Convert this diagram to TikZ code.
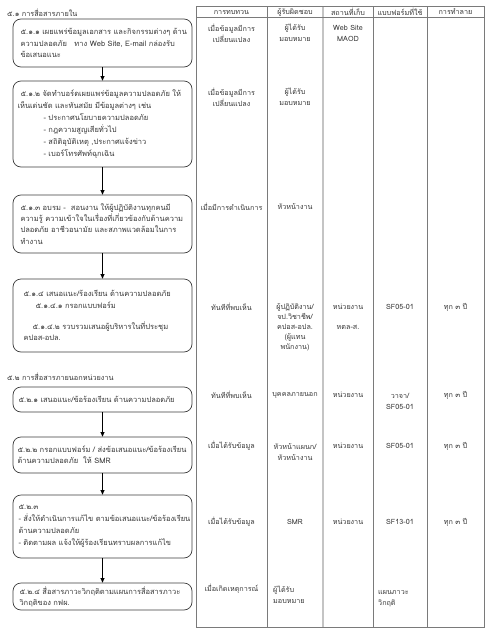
\documentclass[tikz,border=0pt]{standalone}
\usepackage{fontspec}
\newfontfamily\thai[Script=Thai]{Loma}
\usetikzlibrary{arrows.meta}
\definecolor{boxline}{HTML}{3C3C3C}
\definecolor{tabline}{HTML}{7A7A7A}
\definecolor{tabthick}{HTML}{C4C4C4}
\definecolor{txt}{HTML}{383838}
\tikzset{
  flowbox/.style={draw=boxline, line width=0.7pt, rounded corners=8pt, text=txt,
    font=\thai\fontsize{7.5}{11.2}\selectfont, align=left, text width=170pt,
    inner sep=0pt, minimum width=179pt},
  arr/.style={draw=black, line width=0.7pt, -{Triangle[length=4.5pt,width=4pt]}},
  head/.style={text=txt, font=\thai\fontsize{7.3}{11}\selectfont, anchor=west, inner sep=0pt},
  cell/.style={text=txt, font=\thai\fontsize{7.2}{11}\selectfont, align=center, inner sep=0pt},
  cellL/.style={text=txt, font=\thai\fontsize{7.2}{11}\selectfont, align=left, anchor=west, inner sep=0pt},
  tline/.style={draw=tabline, line width=0.6pt},
  tthick/.style={draw=tabthick, line width=1.6pt}
}
\begin{document}
\begin{tikzpicture}[x=1pt,y=-1pt]
\useasboundingbox[fill=white] (0,0) rectangle (497,640);

% headings
\node[head] (h1) at (7,13) {๕.๑ การสื่อสารภายใน};
\node[head] (h2) at (7,377) {๕.๒ การสื่อสารภายนอกหน่วยงาน};

% flow boxes
\node[flowbox, minimum height=48pt] (b1) at (102.5,43)
 {\hspace*{3pt}\mbox{๕.๑.๑ เผยแพร่ข้อมูลเอกสาร และกิจกรรมต่างๆ ด้าน}\\
  \hspace*{3pt}\mbox{ความปลอดภัย \ \ ทาง Web Site, E-mail กล่องรับ}\\
  \hspace*{3pt}ข้อเสนอแนะ};
\node[flowbox, minimum height=86pt, font=\thai\fontsize{7.5}{12}\selectfont] (b2) at (102.5,124)
 {\hspace*{3pt}\mbox{๕.๑.๒ จัดทำบอร์ดเผยแพร่ข้อมูลความปลอดภัย ให้}\\
  \mbox{เห็นเด่นชัด และทันสมัย มีข้อมูลต่างๆ เช่น}\\
  \hspace*{26pt}- ประกาศนโยบายความปลอดภัย\\
  \hspace*{26pt}- กฎความสูญเสียทั่วไป\\
  \hspace*{26pt}- สถิติอุบัติเหตุ ,ประกาศแจ้งข่าว\\
  \hspace*{26pt}- เบอร์โทรศัพท์ฉุกเฉิน};
\node[flowbox, minimum height=58pt] (b3) at (102.5,224)
 {\hspace*{3pt}\mbox{๕.๑.๓ อบรม - \ สอนงาน ให้ผู้ปฏิบัติงานทุกคนมี}\\
  \hspace*{3pt}\mbox{ความรู้ ความเข้าใจในเรื่องที่เกี่ยวข้องกับด้านความ}\\
  \hspace*{3pt}\mbox{ปลอดภัย อาชีวอนามัย และสภาพแวดล้อมในการ}\\
  \hspace*{3pt}ทำงาน};
\node[flowbox, minimum height=73pt] (b4) at (102.5,315.5)
 {\hspace*{6pt}\mbox{๕.๑.๔ เสนอแนะ/ร้องเรียน ด้านความปลอดภัย}\\
  \hspace*{18pt}๕.๑.๔.๑ กรอกแบบฟอร์ม\\[10pt]
  \hspace*{15pt}\mbox{๕.๑.๔.๒ รวบรวมเสนอผู้บริหารในที่ประชุม}\\
  \hspace*{6pt}คปอส-อปล.};
\node[flowbox, minimum height=25pt] (b5) at (102.5,399.5)
 {\hspace*{1pt}\mbox{๕.๒.๑ เสนอแนะ/ข้อร้องเรียน ด้านความปลอดภัย}};
\node[flowbox, minimum height=36pt] (b6) at (102.5,455)
 {\mbox{๕.๒.๒ กรอกแบบฟอร์ม / ส่งข้อเสนอแนะ/ข้อร้องเรียน}\\
  ด้านความปลอดภัย \ ให้ SMR};
\node[flowbox, minimum height=63pt, font=\thai\fontsize{7.5}{12}\selectfont] (b7) at (102.5,526.5)
 {\hspace*{1pt}๕.๒.๓\\
  \hspace*{1pt}\mbox{- สั่งให้ดำเนินการแก้ไข ตามข้อเสนอแนะ/ข้อร้องเรียน}\\
  \hspace*{1pt}ด้านความปลอดภัย\\
  \hspace*{1pt}\mbox{- ติดตามผล แจ้งให้ผู้ร้องเรียนทราบผลการแก้ไข}};
\node[flowbox, minimum height=27pt] (b8) at (102.5,596.5)
 {\hspace*{2pt}\mbox{๕.๒.๔ สื่อสารภาวะวิกฤติตามแผนการสื่อสารภาวะ}\\
  \hspace*{2pt}วิกฤติของ กฟผ.};

\draw[arr] (b1.south) -- (b2.north);
\draw[arr] (b2.south) -- (b3.north);
\draw[arr] (b3.south) -- (b4.north);
\draw[arr] (b5.south) -- (b6.north);
\draw[arr] (b6.south) -- (b7.north);
\draw[arr] (b7.south) -- (b8.north);

% table
\draw[tthick] (323,6) -- (323,627);
\draw[tline] (196,6) rectangle (484,627);
\draw[tline] (196,17.5) -- (484,17.5);
\draw[tline] (267,6) -- (267,627);
\draw[tline] (373,6) -- (373,627);
\draw[tline] (427,6) -- (427,627);

\node[cell] (th1) at (231.5,12) {การทบทวน};
\node[cell] (th2) at (295,12) {ผู้รับผิดชอบ};
\node[cell] (th3) at (348,12) {สถานที่เก็บ};
\node[cell] (th4) at (400,12) {แบบฟอร์มที่ใช้};
\node[cell] (th5) at (455.5,12) {การทำลาย};

% row 1
\node[cell] (r1a) at (231.5,33) {เมื่อข้อมูลมีการ\\เปลี่ยนแปลง};
\node[cell] (r1b) at (295,33) {ผู้ได้รับ\\มอบหมาย};
\node[cell] (r1c) at (348,33) {Web Site\\MAOD};
% row 2
\node[cell] (r2a) at (231.5,97) {เมื่อข้อมูลมีการ\\เปลี่ยนแปลง};
\node[cell] (r2b) at (295,97) {ผู้ได้รับ\\มอบหมาย};
% row 3
\node[cell] (r3a) at (231.5,207) {เมื่อมีการดำเนินการ};
\node[cell] (r3b) at (295,207) {หัวหน้างาน};
% row 4
\node[cell] (r4a) at (231.5,307) {ทันทีที่พบเห็น};
\node[cell, font=\thai\fontsize{7.2}{10}\selectfont] (r4b) at (295,327) {ผู้ปฏิบัติงาน/\\จป.วิชาชีพ/\\คปอส-อปล.\\(ผู้แทน\\พนักงาน)};
\node[cell, font=\thai\fontsize{7.2}{10}\selectfont] (r4c) at (348,317) {หน่วยงาน\\[10pt]หตล-ส.};
\node[cell] (r4d) at (400,307) {SF05-01};
\node[cell] (r4e) at (455.5,307) {ทุก ๓ ปี};
% row 5
\node[cell] (r5a) at (231.5,395) {ทันทีที่พบเห็น};
\node[cell] (r5b) at (295,395) {บุคคลภายนอก};
\node[cell] (r5c) at (348,395) {หน่วยงาน};
\node[cell] (r5d) at (400,401) {วาจา/\\SF05-01};
\node[cell] (r5e) at (455.5,395) {ทุก ๓ ปี};
% row 6
\node[cell] (r6a) at (231.5,446) {เมื่อได้รับข้อมูล};
\node[cell] (r6b) at (295,452) {หัวหน้าแผนก/\\หัวหน้างาน};
\node[cell] (r6c) at (348,446) {หน่วยงาน};
\node[cell] (r6d) at (400,446) {SF05-01};
\node[cell] (r6e) at (455.5,446) {ทุก ๓ ปี};
% row 7
\node[cell] (r7a) at (231.5,522) {เมื่อได้รับข้อมูล};
\node[cell] (r7b) at (295,522) {SMR};
\node[cell] (r7c) at (348,522) {หน่วยงาน};
\node[cell] (r7d) at (400,522) {SF13-01};
\node[cell] (r7e) at (455.5,522) {ทุก ๓ ปี};
% row 8
\node[cell] (r8a) at (231.5,589) {เมื่อเกิดเหตุการณ์};
\node[cellL] (r8b) at (273,595) {ผู้ได้รับ\\มอบหมาย};
\node[cellL] (r8d) at (378,599) {แผนภาวะ\\วิกฤติ};
\end{tikzpicture}
\end{document}
